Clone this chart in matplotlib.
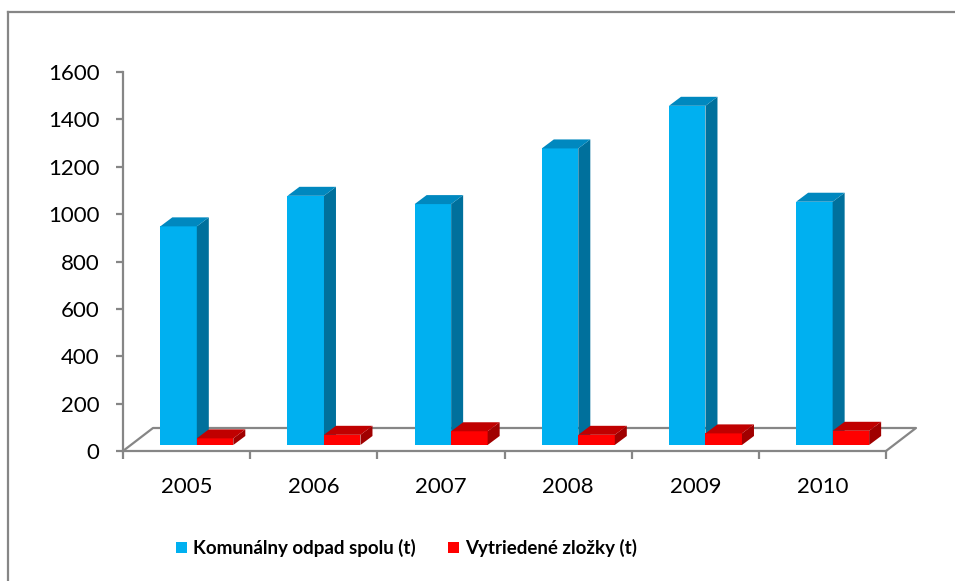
import matplotlib
matplotlib.use("Agg")
import matplotlib.pyplot as plt
import matplotlib.transforms as mtransforms
from matplotlib.patches import Polygon, Patch
from matplotlib.lines import Line2D

# údaje z grafu
roky = ['2005', '2006', '2007', '2008', '2009', '2010']
komunalny = [923, 1052, 1017, 1252, 1432, 1027]
vytriedene = [28, 43, 58, 43, 49, 60]
y_ticky = [0, 200, 400, 600, 800, 1000, 1200, 1400, 1600]
nazvy = ['Komunálny odpad spolu (t)', 'Vytriedené zložky (t)']

modra = ['#00B0F0', '#0088BF', '#00709C']   # predok, vrch, bok
cervena = ['#FF0000', '#C00000', '#A00000']
siva = '#868686'

plt.rcParams['font.family'] = ['Lato', 'DejaVu Sans']

W, H = 955, 581
fig = plt.figure(figsize=(W / 100, H / 100), dpi=100)
ax = fig.add_axes([123 / W, (H - 451) / H, (886 - 123) / W, (451 - 72) / H])
ax.set_xlim(-0.5, 5.5)
ax.set_ylim(0, 1600)

# prevod pixelov na jednotky dát
p0 = ax.transData.transform((0, 0))
p1 = ax.transData.transform((1, 1))
sx, sy = p1[0] - p0[0], p1[1] - p0[1]

# podlaha (3D efekt)
fdx, fdy = 30 / sx, 23 / sy
ax.plot([-0.5, -0.5 + fdx, 5.5 + fdx, 5.5], [0, fdy, fdy, 0],
        color=siva, lw=1.6, clip_on=False, zorder=1)

# stĺpce sú posunuté trochu dozadu
t_back = mtransforms.offset_copy(ax.transData, fig=fig, x=8, y=6, units='dots')
sirka = 0.287
bdx, bdy = 12 / sx, 9 / sy

def stlpce3d(xs, hodnoty, farby, z):
    bars = ax.bar(xs, hodnoty, width=sirka, color=farby[0], zorder=z, clip_on=False)
    for p in bars:
        p.set_transform(t_back)
    for x, v in zip(xs, hodnoty):
        xl, xr = x - sirka / 2, x + sirka / 2
        bok = Polygon([(xr, 0), (xr + bdx, bdy), (xr + bdx, v + bdy), (xr, v)],
                      closed=True, facecolor=farby[2], edgecolor='none',
                      transform=t_back, zorder=z, clip_on=False)
        vrch = Polygon([(xl, v), (xl + bdx, v + bdy), (xr + bdx, v + bdy), (xr, v)],
                       closed=True, facecolor=farby[1], edgecolor='none',
                       transform=t_back, zorder=z, clip_on=False)
        ax.add_patch(bok)
        ax.add_patch(vrch)

x = list(range(len(roky)))
for i in x:
    stlpce3d([i - 0.126], [komunalny[i]], modra, 3 + 2 * i)
    stlpce3d([i + 0.161], [vytriedene[i]], cervena, 4 + 2 * i)

# osi
for s in ['top', 'right']:
    ax.spines[s].set_visible(False)
for s in ['left', 'bottom']:
    ax.spines[s].set_color(siva)
    ax.spines[s].set_linewidth(1.6)
ax.set_yticks(y_ticky)
ax.set_yticklabels([str(v) for v in y_ticky])
ax.set_xticks(x)
ax.set_xticklabels(roky)
ax.set_xticks([i - 0.5 for i in range(len(roky) + 1)], minor=True)
ax.tick_params(axis='y', length=5, width=1.6, color=siva, pad=12, labelsize=16)
ax.tick_params(axis='x', which='major', length=0, pad=19, labelsize=16)
ax.tick_params(axis='x', which='minor', length=6, width=1.6, color=siva)

# legenda
handles = [Patch(facecolor=modra[0]), Patch(facecolor=cervena[0])]
leg = fig.legend(handles, nazvy, loc='center left', bbox_to_anchor=(176 / W, 33 / H),
                 ncol=2, frameon=False, borderpad=0, borderaxespad=0,
                 handlelength=0.57, handleheight=0.57, handletextpad=0.35,
                 columnspacing=1.7, prop={'weight': 'bold', 'size': 13.5})

# rámik
fig.add_artist(Line2D([8 / W, 1], [1 - 12 / H] * 2, transform=fig.transFigure,
                      color=siva, lw=1.6))
fig.add_artist(Line2D([8 / W, 8 / W], [0, 1 - 12 / H], transform=fig.transFigure,
                      color=siva, lw=1.6))

fig.savefig('out.png', dpi=100)
